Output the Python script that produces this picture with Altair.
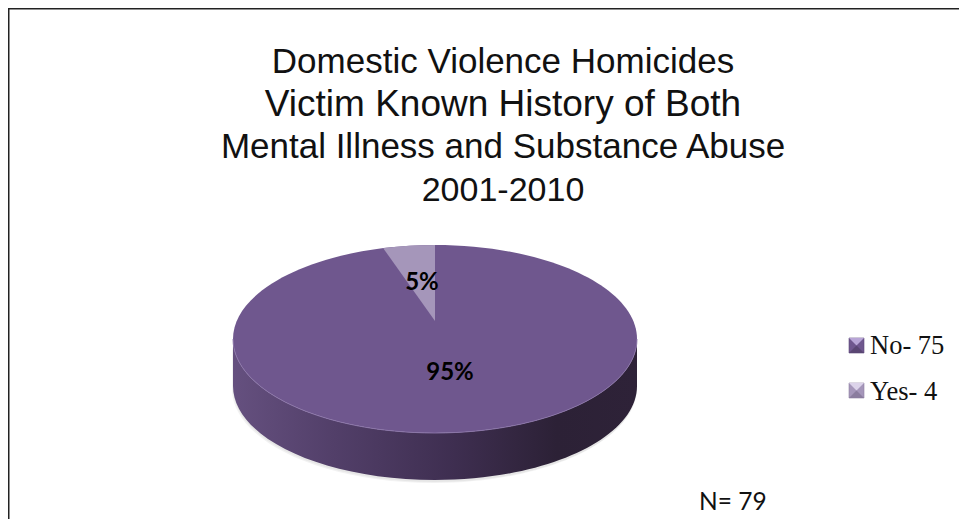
import math
import altair as alt
import pandas as pd

W, H = 951, 511
CX, CY = 427, 331          # centre of the pie's top ellipse inside the plot area
RX, RY, DEPTH = 202, 94, 47
TIP_DY = -18               # wedge tip sits above the ellipse centre (perspective)
PERSP = 0.82

categories = ["No", "Yes"]
counts = [75, 4]
pct_labels = ["95%", "5%"]
legend_labels = ["No- 75", "Yes- 4"]
title_lines = [
    "Domestic Violence Homicides",
    "Victim Known History of Both",
    "Mental Illness and Substance Abuse",
    "2001-2010",
]
note = "N= 79"

COL_NO = "#6f578e"
COL_YES = "#a596ba"

total = sum(counts)
theta = 2 * math.pi * counts[1] / total
ex = -RX * math.sin(theta) * PERSP
ey = -RY * math.sqrt(1 - (ex / RX) ** 2)

ellipse = f"M{-RX},0 A{RX},{RY} 0 1 1 {RX},0 A{RX},{RY} 0 1 1 {-RX},0 Z"
wedge = f"M0,{TIP_DY} L{ex:.2f},{ey:.2f} A{RX},{RY} 0 0 1 0,{-RY} Z"
wall = (f"M{-RX},0 L{-RX},{DEPTH} A{RX},{RY} 0 0 0 {RX},{DEPTH} L{RX},0 "
        f"A{RX},{RY} 0 0 1 {-RX},0 Z")
rim = f"M{-RX},0 A{RX},{RY} 0 0 0 {RX},0"


def sh(path, fill=None, opacity=1.0, x=CX, y=CY, stroke=None, sw=0):
    kw = dict(shape=path, size=4, opacity=opacity, filled=fill is not None, strokeWidth=sw)
    if fill is not None:
        kw["fill"] = fill
    if stroke is not None:
        kw["stroke"] = stroke
    return alt.Chart(alt.Data(values=[{"k": 1}])).mark_point(**kw).encode(
        x=alt.value(x), y=alt.value(y))


wall_grad = alt.LinearGradient(
    gradient="linear", x1=0, x2=1, y1=0, y2=0,
    stops=[
        alt.GradientStop(color="#65507f", offset=0),
        alt.GradientStop(color="#523f69", offset=0.25),
        alt.GradientStop(color="#3e2e50", offset=0.55),
        alt.GradientStop(color="#2c2136", offset=0.8),
        alt.GradientStop(color="#2e2238", offset=1),
    ],
)

layers = []
# soft shadow round the wall
layers.append(sh(wall, "#808080", 0.10, x=CX - 1, y=CY + 3))
layers.append(sh(wall, "#808080", 0.10, x=CX, y=CY + 2))
layers.append(sh(wall, wall_grad))

# slices, from the values
pie_df = pd.DataFrame({"category": categories, "count": counts, "path": [ellipse, wedge]})
layers.append(
    alt.Chart(pie_df).mark_point(filled=True, size=4, opacity=1, strokeWidth=0).encode(
        x=alt.value(CX), y=alt.value(CY),
        shape=alt.Shape("path:N", scale=None, legend=None),
        fill=alt.Fill("category:N", scale=alt.Scale(domain=categories, range=[COL_NO, COL_YES]), legend=None),
    )
)
layers.append(sh(rim, None, 0.9, stroke="#8c76aa", sw=1))


def text(s, x, y, **kw):
    return alt.Chart(alt.Data(values=[{"t": s}])).mark_text(**kw).encode(
        x=alt.value(x), y=alt.value(y), text="t:N")


# percentage labels
lab_kw = dict(font="Lato", fontSize=24, fontWeight="bold", color="#000000", align="center", baseline="middle")
layers.append(text(pct_labels[0], 442, 365, **lab_kw))
layers.append(text(pct_labels[1], 414, 275, **lab_kw))

# title
for line, y, fs in zip(title_lines, [65, 107.6, 150.2, 193], [35, 37, 35, 34]):
    layers.append(text(line, 495, y, font="Liberation Sans", fontSize=fs, color="#111111",
                       align="center", baseline="alphabetic"))

# legend
SQ = 7.5
sq_base = f"M{-SQ},{-SQ} L{SQ},{-SQ} L{SQ},{SQ} L{-SQ},{SQ} Z"
sq_top = f"M{-SQ},{-SQ} L{SQ},{-SQ} L0,0 Z"
sq_bot = f"M{-SQ},{SQ} L{SQ},{SQ} L0,0 Z"
legend_rows = [
    (legend_labels[0], 337.5, 346, COL_NO, "#b8a5d6", "#5a4673", "#5d4879"),
    (legend_labels[1], 382.5, 392, COL_YES, "#dcd3ea", "#8a7c9e", "#8d7fa3"),
]
for lab, yc, yb, base, top, bot, edge in legend_rows:
    x = 848.5
    layers.append(sh(sq_base, base, x=x, y=yc, stroke=edge, sw=0.6))
    layers.append(sh(sq_top, top, x=x, y=yc))
    layers.append(sh(sq_bot, bot, x=x, y=yc))
    layers.append(text(lab, 862, yb, font="Liberation Serif", fontSize=26.5, color="#111111",
                       align="left", baseline="alphabetic"))

# note
layers.append(text(note, 691, 502, font="Lato", fontSize=24.5, color="#111111", align="left", baseline="alphabetic"))

# frame (only the top and left edges fall inside the picture)
frame = alt.Data(values=[{"k": 1}])
layers.append(alt.Chart(frame).mark_rule(color="#222222", strokeWidth=2).encode(
    x=alt.value(0.5), y=alt.value(0), y2=alt.value(H)))
layers.append(alt.Chart(frame).mark_rule(color="#222222", strokeWidth=2).encode(
    x=alt.value(0), x2=alt.value(W), y=alt.value(0.5)))

chart = alt.layer(*layers).properties(
    width=W, height=H, padding=0, autosize=alt.AutoSizeParams(type="none"),
    background="#ffffff",
).configure_view(stroke=None)

chart.save("out.html", embed_options={"renderer": "svg", "actions": False})
